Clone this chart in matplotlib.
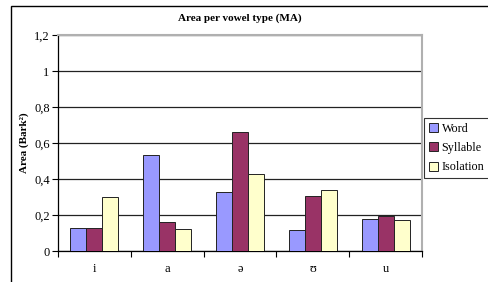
import matplotlib
matplotlib.use("Agg")
import matplotlib.pyplot as plt
import numpy as np
from matplotlib.patches import Rectangle
from matplotlib.ticker import FuncFormatter, FixedLocator

vowels = ["i", "a", "ə", "ʊ", "u"]
series = ["Word", "Syllable", "Isolation"]
word = [0.13, 0.535, 0.33, 0.115, 0.18]
syllable = [0.13, 0.16, 0.66, 0.305, 0.195]
isolation = [0.30, 0.12, 0.43, 0.34, 0.172]
colors = ["#9999FF", "#993366", "#FFFFCC"]

plt.rcParams["font.family"] = ["Liberation Serif", "DejaVu Serif"]

fig = plt.figure(figsize=(4.88, 2.82), dpi=100)
ax = fig.add_axes([58 / 488, 31 / 282, 364 / 488, 216 / 282])

# outer chart frame (cropped at right and bottom like the reference)
fig.patches.append(Rectangle((11 / 488, -0.2), 1.2, 1.2 - 6 / 282,
                             transform=fig.transFigure, fill=False,
                             edgecolor="black", lw=1.0))

x = np.arange(len(vowels))
w = 0.22
for i, (vals, name) in enumerate(zip([word, syllable, isolation], series)):
    ax.bar(x + (i - 1) * w, vals, w, color=colors[i], edgecolor="#222222",
           lw=0.7, label=name, zorder=3)

ax.set_xlim(-0.5, len(vowels) - 0.5)
ax.set_ylim(0, 1.2)
ax.set_yticks(np.arange(0, 1.21, 0.2))
ax.yaxis.set_major_formatter(FuncFormatter(lambda v, p: f"{round(v, 1):g}".replace(".", ",")))
ax.yaxis.grid(True, color="#222222", lw=0.9, zorder=1)
ax.set_xticks(x)
ax.set_xticklabels(vowels)
ax.xaxis.set_minor_locator(FixedLocator(np.arange(-0.5, len(vowels), 1.0)))
ax.tick_params(axis="x", which="major", length=0, pad=9, labelsize=9)
ax.tick_params(axis="x", which="minor", length=4, width=0.8, direction="out")
ax.tick_params(axis="y", length=4, width=0.8, direction="out", labelsize=9, pad=2)

for s in ["top", "right"]:
    ax.spines[s].set_color("#b0b0b0")
    ax.spines[s].set_linewidth(1.5)
for s in ["left", "bottom"]:
    ax.spines[s].set_color("black")
    ax.spines[s].set_linewidth(0.9)

ax.set_title("Area per vowel type (MA)", fontsize=8, fontweight="bold", pad=10)
ax.set_ylabel("Area (Bark²)", fontsize=8, fontweight="bold")
ax.yaxis.set_label_coords(-0.08, 0.5)

leg = fig.legend(loc="upper left", bbox_to_anchor=(424 / 488, 1 - 118 / 282),
                 fontsize=8.7, frameon=True, fancybox=False, edgecolor="black",
                 handlelength=0.75, handleheight=0.75, handletextpad=0.3,
                 borderpad=0.4, labelspacing=0.6, borderaxespad=0)
leg.get_frame().set_linewidth(0.8)

fig.savefig("out.png", dpi=100)
